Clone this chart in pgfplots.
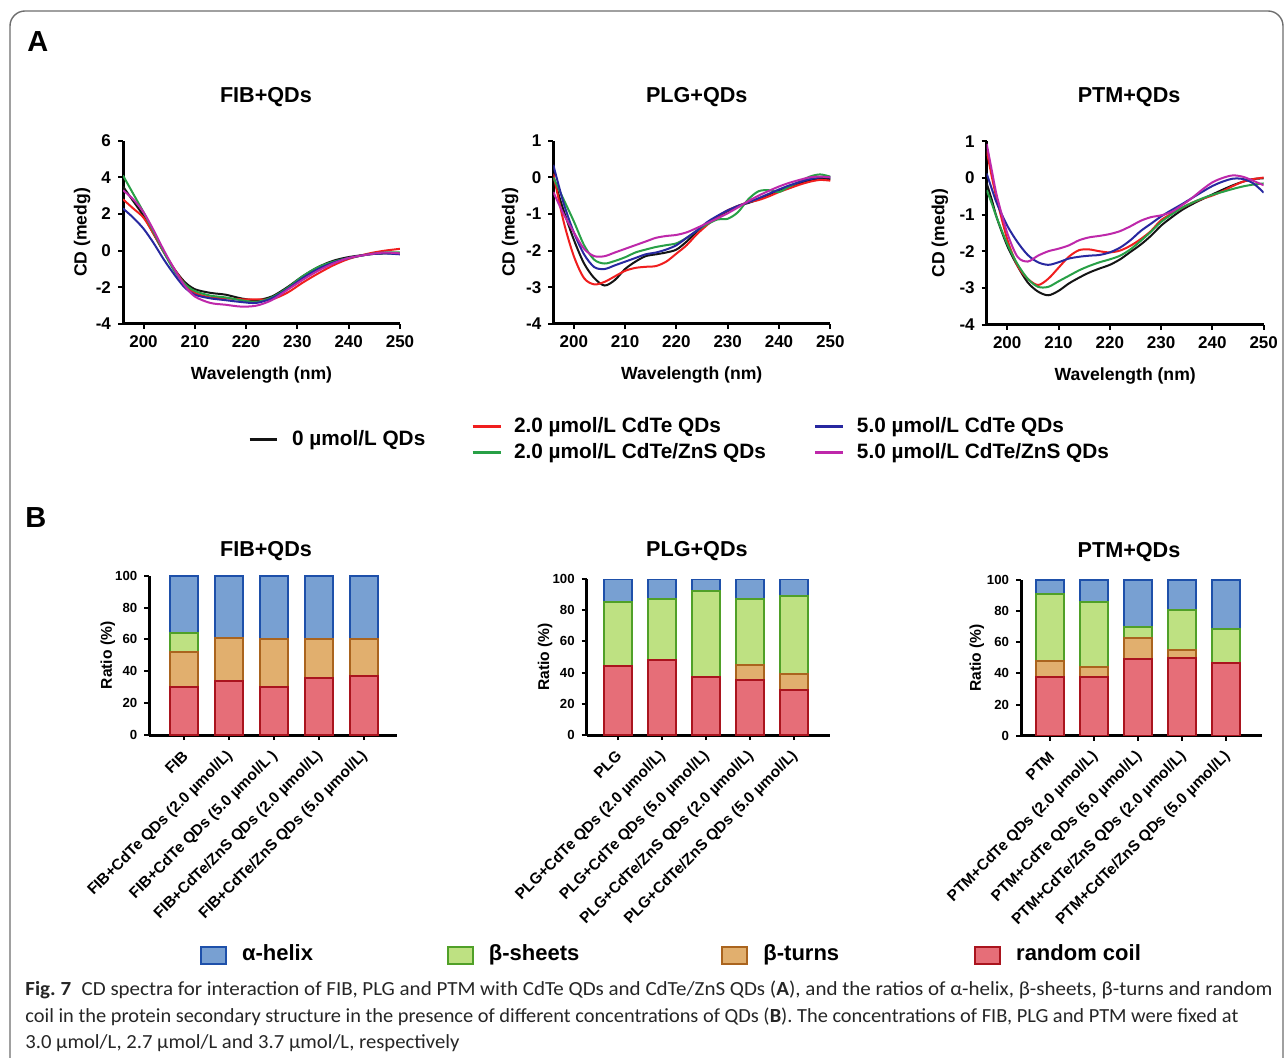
\documentclass[border=0pt]{standalone}
\usepackage{fontspec}
\setmainfont{Liberation Sans}
\newfontfamily\capfont{Carlito}
\usepackage{graphicx}
\usepackage{pgfplots}
\usepackage{pgfplotstable}
\pgfplotsset{compat=1.18}

\definecolor{cblack}{RGB}{20,20,20}
\definecolor{cred}{RGB}{240,30,30}
\definecolor{cgreen}{RGB}{40,160,70}
\definecolor{cblue}{RGB}{40,40,160}
\definecolor{cmag}{RGB}{190,40,170}
\definecolor{hfill}{RGB}{120,160,210}
\definecolor{hdraw}{RGB}{30,80,170}
\definecolor{sfill}{RGB}{190,225,130}
\definecolor{sdraw}{RGB}{80,160,40}
\definecolor{tfill}{RGB}{225,175,110}
\definecolor{tdraw}{RGB}{170,100,30}
\definecolor{rfill}{RGB}{230,110,120}
\definecolor{rdraw}{RGB}{170,20,30}
\definecolor{framecol}{RGB}{110,110,110}

\newcommand\fTitle{\bfseries\fontsize{10.8}{13}\selectfont}
\newcommand\fTickA{\bfseries\fontsize{8.5}{10}\selectfont}
\newcommand\fLabA{\bfseries\fontsize{8.8}{10}\selectfont}
\newcommand\fLegA{\bfseries\fontsize{10.4}{12}\selectfont}
\newcommand\fTickB{\bfseries\fontsize{6.6}{8}\selectfont}
\newcommand\fXTickB{\bfseries\fontsize{7.7}{9}\selectfont}
\newcommand\fLabB{\bfseries\fontsize{7.8}{9}\selectfont}
\newcommand\fLegB{\bfseries\fontsize{11}{13}\selectfont}

\pgfplotstableread{
x bk rd gn bl mg
196 3.5 2.8 4.1 2.3 3.3
198 2.7 2.3 3.1 1.8 2.8
200 1.9 1.8 2.1 1.2 2.1
202 0.9 0.9 1.0 0.4 1.1
204 -0.1 -0.1 -0.1 -0.5 0.0
206 -1.0 -1.0 -1.1 -1.3 -1.0
208 -1.7 -1.8 -1.8 -2.0 -1.9
210 -2.1 -2.3 -2.2 -2.4 -2.5
213 -2.3 -2.55 -2.45 -2.6 -2.85
216 -2.4 -2.6 -2.55 -2.7 -2.95
219 -2.6 -2.65 -2.7 -2.8 -3.05
222 -2.7 -2.65 -2.8 -2.85 -3.0
225 -2.5 -2.65 -2.55 -2.6 -2.7
228 -2.0 -2.3 -2.05 -2.1 -2.15
231 -1.4 -1.75 -1.4 -1.5 -1.6
234 -0.9 -1.25 -0.9 -1.0 -1.1
237 -0.55 -0.8 -0.6 -0.65 -0.7
240 -0.35 -0.45 -0.4 -0.4 -0.4
244 -0.2 -0.15 -0.2 -0.2 -0.2
247 -0.15 0.0 -0.1 -0.15 -0.1
250 -0.15 0.1 -0.1 -0.2 -0.15
}\fibA

\pgfplotstableread{
x bk rd gn bl mg
196 0.0 0.1 0.0 0.34 -0.4
198 -0.9 -1.2 -0.6 -0.7 -1.0
200 -1.7 -2.15 -1.2 -1.5 -1.5
202 -2.35 -2.75 -1.85 -2.1 -1.95
204 -2.75 -2.92 -2.25 -2.45 -2.15
206 -2.95 -2.85 -2.35 -2.5 -2.15
208 -2.8 -2.7 -2.28 -2.4 -2.05
210 -2.5 -2.55 -2.18 -2.3 -1.95
212 -2.3 -2.47 -2.05 -2.2 -1.85
214 -2.15 -2.44 -1.97 -2.1 -1.75
216 -2.1 -2.42 -1.9 -2.05 -1.65
218 -2.05 -2.3 -1.85 -1.97 -1.6
220 -1.97 -2.08 -1.8 -1.85 -1.57
222 -1.75 -1.85 -1.65 -1.65 -1.5
224 -1.48 -1.55 -1.45 -1.45 -1.38
226 -1.25 -1.3 -1.28 -1.22 -1.25
228 -1.08 -1.07 -1.15 -1.05 -1.12
230 -0.92 -0.9 -1.13 -0.9 -0.98
232 -0.78 -0.78 -0.95 -0.78 -0.82
234 -0.7 -0.68 -0.6 -0.68 -0.65
236 -0.6 -0.62 -0.38 -0.57 -0.5
238 -0.47 -0.52 -0.35 -0.45 -0.37
240 -0.35 -0.4 -0.4 -0.33 -0.25
242 -0.25 -0.3 -0.25 -0.22 -0.15
244 -0.16 -0.2 -0.12 -0.13 -0.07
246 -0.08 -0.12 0.02 -0.05 0.0
248 -0.04 -0.07 0.08 0.0 0.02
250 -0.05 -0.09 0.02 0.0 0.0
}\plgA

\pgfplotstableread{
x bk rd gn bl mg
196 -0.15 0.75 -0.33 0.12 0.93
197 -0.6 0.03 -0.7 -0.3 0.2
198 -1.1 -0.6 -1.1 -0.7 -0.5
200 -1.85 -1.67 -1.8 -1.3 -1.5
202 -2.4 -2.39 -2.35 -1.75 -2.15
204 -2.85 -2.75 -2.75 -2.1 -2.28
206 -3.1 -2.92 -2.97 -2.3 -2.12
208 -3.2 -2.75 -2.97 -2.37 -2.0
210 -3.08 -2.45 -2.82 -2.3 -1.93
212 -2.88 -2.15 -2.67 -2.2 -1.84
214 -2.72 -1.97 -2.52 -2.15 -1.7
216 -2.58 -1.95 -2.4 -2.12 -1.62
218 -2.47 -2.0 -2.3 -2.1 -1.58
220 -2.37 -2.03 -2.22 -2.03 -1.53
222 -2.22 -1.98 -2.12 -1.9 -1.45
224 -2.02 -1.85 -1.95 -1.7 -1.32
226 -1.82 -1.67 -1.72 -1.45 -1.17
228 -1.58 -1.45 -1.47 -1.25 -1.07
230 -1.3 -1.15 -1.2 -1.05 -1.02
232 -1.08 -0.98 -1.0 -0.88 -0.93
234 -0.88 -0.82 -0.82 -0.72 -0.75
236 -0.72 -0.68 -0.68 -0.55 -0.55
238 -0.58 -0.57 -0.56 -0.38 -0.32
240 -0.45 -0.48 -0.46 -0.22 -0.12
242 -0.32 -0.36 -0.38 -0.1 0.0
244 -0.2 -0.22 -0.3 -0.02 0.07
246 -0.1 -0.1 -0.23 -0.03 0.03
248 -0.03 -0.03 -0.18 -0.15 -0.08
250 -0.01 0.01 -0.15 -0.4 -0.2
}\ptmA

\pgfplotsset{
  cdaxis/.style={
    scale only axis, width=138.5pt, height=91.65pt,
    xmin=196, xmax=250, ymin=-4,
    axis lines=left, axis line style={-, line width=1.5pt, black},
    tick align=outside, major tick length=2.5pt,
    major tick style={line width=1pt, black},
    xtick={200,210,220,230,240,250},
    ticklabel style={font=\fTickA},
    /pgf/number format/assume math mode=true,
    xlabel={Wavelength (nm)}, ylabel={CD (medg)},
    every axis x label/.style={at={(axis description cs:0.5,0)}, anchor=center, yshift=-25.5pt, font=\fLabA},
    every axis title/.style={anchor=center, font=\fTitle},
    every axis plot/.append style={line width=1pt, smooth, tension=0.5, mark=none},
  },
  baraxis/.style={
    scale only axis, ymin=0, ymax=100, ytick={0,20,40,60,80,100},
    axis lines=left, axis line style={-, line width=1.5pt, black},
    tick align=outside, major tick length=2.5pt,
    major tick style={line width=1pt, black},
    ybar stacked, bar width=14pt,
    xtick={0,1,2,3,4},
    yticklabel style={font=\fTickB},
    xticklabel style={font=\fXTickB, xshift=1.5pt, yshift=-6pt, rotate=45, anchor=east, inner sep=1pt},
    /pgf/number format/assume math mode=true,
    ylabel={Ratio (\%)},
    every axis title/.style={anchor=center, font=\fTitle},
  },
  coil/.style={fill=rfill, draw=rdraw, line width=1pt},
  turns/.style={fill=tfill, draw=tdraw, line width=1pt},
  sheets/.style={fill=sfill, draw=sdraw, line width=1pt},
  helix/.style={fill=hfill, draw=hdraw, line width=1pt},
  legaxis/.style={hide axis, scale only axis, width=1pt, height=1pt,
    xmin=0, xmax=1, ymin=0, ymax=1, anchor=south west},
}

\begin{document}
\begin{tikzpicture}
\path[use as bounding box] (0pt,0pt) rectangle (642.5pt,-529pt);
\fill[white] (0pt,0pt) rectangle (642.5pt,-529pt);
\draw[framecol, line width=0.7pt, rounded corners=7.5pt] (5pt,-540pt) -- (5pt,-5.5pt) -- (641.5pt,-5.5pt) -- (641.5pt,-540pt);

\node[anchor=base west, inner sep=0pt, font=\bfseries\fontsize{14.5}{16}\selectfont] at (13.5pt,-26pt) {A};
\node[anchor=base west, inner sep=0pt, font=\bfseries\fontsize{14.5}{16}\selectfont] at (12.5pt,-264pt) {B};

% ---------- Panel A ----------
\begin{axis}[cdaxis, at={(61.5pt,-162pt)}, anchor=south west, ymax=6, ytick={-4,-2,0,2,4,6},
  title={FIB+QDs}, title style={at={(axis description cs:0.516,1)}, yshift=22pt},
  ylabel style={at={(axis description cs:-0.148,0.5)}, anchor=center, font=\fLabA}]
\addplot[cblack] table[x=x,y=bk]{\fibA};
\addplot[cred] table[x=x,y=rd]{\fibA};
\addplot[cgreen] table[x=x,y=gn]{\fibA};
\addplot[cblue] table[x=x,y=bl]{\fibA};
\addplot[cmag] table[x=x,y=mg]{\fibA};
\end{axis}

\begin{axis}[cdaxis, at={(276.65pt,-162pt)}, anchor=south west, ymax=1, ytick={-4,-3,-2,-1,0,1},
  title={PLG+QDs}, title style={at={(axis description cs:0.518,1)}, yshift=22pt},
  ylabel style={at={(axis description cs:-0.156,0.5)}, anchor=center, font=\fLabA}]
\addplot[cblack] table[x=x,y=bk]{\plgA};
\addplot[cred] table[x=x,y=rd]{\plgA};
\addplot[cgreen] table[x=x,y=gn]{\plgA};
\addplot[cblue] table[x=x,y=bl]{\plgA};
\addplot[cmag] table[x=x,y=mg]{\plgA};
\end{axis}

\begin{axis}[cdaxis, at={(493.35pt,-162.3pt)}, anchor=south west, ymax=1, ytick={-4,-3,-2,-1,0,1},
  title={PTM+QDs}, title style={at={(axis description cs:0.514,1)}, yshift=22pt},
  ylabel style={at={(axis description cs:-0.169,0.5)}, anchor=center, font=\fLabA}]
\addplot[cblack] table[x=x,y=bk]{\ptmA};
\addplot[cred] table[x=x,y=rd]{\ptmA};
\addplot[cgreen] table[x=x,y=gn]{\ptmA};
\addplot[cblue] table[x=x,y=bl]{\ptmA};
\addplot[cmag] table[x=x,y=mg]{\ptmA};
\end{axis}

% legends of panel A
\begin{axis}[legaxis, at={(124pt,-220pt)},
  legend cell align=left,
  legend image code/.code={\draw[#1, line width=1.5pt] (0pt,0pt) -- (13.5pt,0pt);},
  legend style={at={(0,0)}, anchor=west, draw=none, fill=none, inner sep=0pt, outer sep=0pt,
    font=\fLegA, nodes={inner sep=0pt, text height=7.6pt, text depth=2.2pt},
    /tikz/every odd column/.append style={column sep=7pt}}]
\addlegendimage{cblack}
\addlegendentry{0 µmol/L QDs}
\end{axis}

\begin{axis}[legaxis, at={(235.5pt,-220pt)},
  legend columns=2, legend cell align=left,
  legend image code/.code={\draw[#1, line width=1.5pt] (0pt,0pt) -- (14pt,0pt);},
  legend style={at={(0,0)}, anchor=west, draw=none, fill=none, inner sep=0pt, outer sep=0pt,
    font=\fLegA, nodes={inner sep=0pt, text height=7.6pt, text depth=2.2pt}, row sep=3.2pt,
    /tikz/every odd column/.append style={column sep=6pt},
    /tikz/every even column/.append style={column sep=24pt}}]
\addlegendimage{cred}
\addlegendentry{2.0 µmol/L CdTe QDs}
\addlegendimage{cblue}
\addlegendentry{5.0 µmol/L CdTe QDs}
\addlegendimage{cgreen}
\addlegendentry{2.0 µmol/L CdTe/ZnS QDs}
\addlegendimage{cmag}
\addlegendentry{5.0 µmol/L CdTe/ZnS QDs}
\end{axis}

% ---------- Panel B ----------
\begin{axis}[baraxis, at={(74.65pt,-367.5pt)}, anchor=south west,
  width=123.85pt, height=79.65pt, xmin=-0.77, xmax=4.74,
  xticklabels={FIB, FIB+CdTe QDs (2.0 µmol/L), FIB+CdTe QDs (5.0 µmol/L ), FIB+CdTe/ZnS QDs (2.0 µmol/L), FIB+CdTe/ZnS QDs (5.0 µmol/L)},
  title={FIB+QDs}, title style={at={(axis description cs:0.471,1)}, yshift=12.35pt},
  ylabel style={at={(axis description cs:-0.167,0.5)}, anchor=center, font=\fLabB}]
\addplot[coil] coordinates {(0,30) (1,34) (2,30) (3,36) (4,37)};
\addplot[turns] coordinates {(0,22) (1,27) (2,30) (3,24) (4,23)};
\addplot[sheets] coordinates {(0,12) (1,0) (2,0) (3,0) (4,0)};
\addplot[helix] coordinates {(0,36) (1,39) (2,40) (3,40) (4,40)};
\end{axis}

\begin{axis}[baraxis, at={(293.35pt,-367.5pt)}, anchor=south west,
  width=121.65pt, height=78pt, xmin=-0.70, xmax=4.82,
  xticklabels={PLG, PLG+CdTe QDs (2.0 µmol/L), PLG+CdTe QDs (5.0 µmol/L), PLG+CdTe/ZnS QDs (2.0 µmol/L), PLG+CdTe/ZnS QDs (5.0 µmol/L)},
  title={PLG+QDs}, title style={at={(axis description cs:0.453,1)}, yshift=14pt},
  ylabel style={at={(axis description cs:-0.171,0.5)}, anchor=center, font=\fLabB}]
\addplot[coil] coordinates {(0,44) (1,48) (2,37) (3,35) (4,29)};
\addplot[turns] coordinates {(0,0) (1,0) (2,0) (3,10) (4,10)};
\addplot[sheets] coordinates {(0,41.5) (1,39) (2,55) (3,42) (4,50)};
\addplot[helix] coordinates {(0,14.5) (1,13) (2,8) (3,13) (4,11)};
\end{axis}

\begin{axis}[baraxis, at={(510.5pt,-367.85pt)}, anchor=south west,
  width=120.5pt, height=77.85pt, xmin=-0.66, xmax=4.81,
  xticklabels={PTM, PTM+CdTe QDs (2.0 µmol/L), PTM+CdTe QDs (5.0 µmol/L), PTM+CdTe/ZnS QDs (2.0 µmol/L), PTM+CdTe/ZnS QDs (5.0 µmol/L)},
  title={PTM+QDs}, title style={at={(axis description cs:0.448,1)}, yshift=14pt},
  ylabel style={at={(axis description cs:-0.183,0.5)}, anchor=center, font=\fLabB}]
\addplot[coil] coordinates {(0,38) (1,38) (2,49) (3,50) (4,46.5)};
\addplot[turns] coordinates {(0,10) (1,6) (2,14) (3,5) (4,0)};
\addplot[sheets] coordinates {(0,43) (1,42) (2,7) (3,26) (4,22)};
\addplot[helix] coordinates {(0,9) (1,14) (2,30) (3,19) (4,31.5)};
\end{axis}

% legend of panel B
\begin{axis}[legaxis, at={(100pt,-477.5pt)},
  legend columns=4, legend cell align=left,
  legend image code/.code={\draw[#1, line width=1pt] (0pt,-4.25pt) rectangle (12.5pt,4.25pt);},
  legend style={at={(0,0)}, anchor=west, draw=none, fill=none, inner sep=0pt, outer sep=0pt,
    font=\fLegB, nodes={inner sep=0pt, text height=8pt, text depth=2.3pt},
    /tikz/every odd column/.append style={column sep=7.5pt},
    /tikz/column 2/.append style={column sep=67pt},
    /tikz/column 4/.append style={column sep=71pt},
    /tikz/column 6/.append style={column sep=67.5pt},
    /tikz/column 7/.append style={column sep=9pt}}]
\addlegendimage{helix}
\addlegendentry{α-helix}
\addlegendimage{sheets}
\addlegendentry{β-sheets}
\addlegendimage{turns}
\addlegendentry{β-turns}
\addlegendimage{coil}
\addlegendentry{random coil}
\end{axis}

% ---------- caption ----------
\node[anchor=base west, inner sep=0pt, text=black!85] at (12.5pt,-497.5pt)
  {\resizebox{623.5pt}{\height}{\capfont\fontsize{10}{12}\selectfont\textbf{Fig.~7}\enspace CD spectra for interaction of FIB, PLG and PTM with CdTe QDs and CdTe/ZnS QDs (\textbf{A}), and the ratios of α-helix, β-sheets, β-turns and random}};
\node[anchor=base west, inner sep=0pt, text=black!85] at (12.5pt,-511pt)
  {\resizebox{606.5pt}{\height}{\capfont\fontsize{10}{12}\selectfont coil in the protein secondary structure in the presence of different concentrations of QDs (\textbf{B}). The concentrations of FIB, PLG and PTM were fixed at}};
\node[anchor=base west, inner sep=0pt, text=black!85] at (12.5pt,-524pt)
  {\resizebox{217pt}{\height}{\capfont\fontsize{10}{12}\selectfont 3.0 µmol/L, 2.7 µmol/L and 3.7 µmol/L, respectively}};
\end{tikzpicture}
\end{document}
